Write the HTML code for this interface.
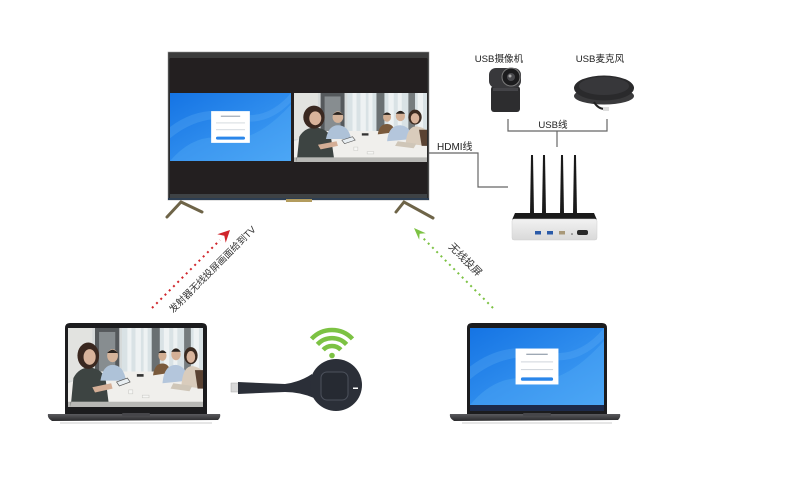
<!DOCTYPE html>
<html><head><meta charset="utf-8"><style>
html,body{margin:0;padding:0;background:#fff;width:804px;height:490px;overflow:hidden}
svg{display:block}
text{font-family:"Liberation Sans","Noto Sans CJK SC",sans-serif;}
</style></head><body>
<svg width="804" height="490" viewBox="0 0 804 490" xmlns="http://www.w3.org/2000/svg">
<defs>
 <linearGradient id="blue" x1="0" y1="0" x2="1" y2="1">
  <stop offset="0" stop-color="#1574e4"/><stop offset="1" stop-color="#45a2f5"/>
 </linearGradient>
 <linearGradient id="shadow" x1="0" y1="0" x2="1" y2="0">
  <stop offset="0" stop-color="#c8c8c8" stop-opacity="0.2"/><stop offset="0.3" stop-color="#bdbdbd"/><stop offset="0.7" stop-color="#bdbdbd"/><stop offset="1" stop-color="#c8c8c8" stop-opacity="0.2"/>
 </linearGradient>
 <linearGradient id="base" x1="0" y1="0" x2="0" y2="1">
  <stop offset="0" stop-color="#5a5a5e"/><stop offset="1" stop-color="#2a2a2c"/>
 </linearGradient>
 <linearGradient id="router" x1="0" y1="0" x2="0" y2="1">
  <stop offset="0" stop-color="#f2f2f2"/><stop offset="1" stop-color="#d9d9d9"/>
 </linearGradient>
 <g id="photo">
  <rect width="100" height="60" fill="#d6dada"/>
  <rect x="0" y="0" width="18" height="40" fill="#e2e3e0"/>
  <rect x="40" y="0" width="60" height="38" fill="#d9e2e5"/>
  <g fill="#eef2f3"><rect x="44" y="0" width="3" height="36"/><rect x="50" y="0" width="4" height="36"/><rect x="56" y="0" width="3" height="36"/><rect x="71" y="0" width="4" height="36"/><rect x="78" y="0" width="3" height="36"/><rect x="93" y="0" width="4" height="36"/></g>
  <rect x="20" y="0" width="18" height="38" fill="#55595c"/>
  <rect x="23" y="3" width="12" height="33" fill="#878d90"/>
  <rect x="62" y="0" width="6" height="38" fill="#6a7072"/>
  <rect x="86" y="0" width="5" height="38" fill="#767c7e"/>
  <polygon points="0,60 0,42 22,33 78,33 100,44 100,60" fill="#f0efec"/>
  <rect x="0" y="56" width="100" height="4" fill="#b8b8b5"/>
  <path d="M2,60 L4,38 Q8,30 16,30 Q26,31 28,40 L30,56 L2,56Z" fill="#3d4442"/>
  <ellipse cx="15" cy="21" rx="8" ry="10" fill="#3a2820"/>
  <ellipse cx="16" cy="22" rx="4.5" ry="6" fill="#d8b39b"/>
  <path d="M18,45 L32,42 L33,46 L20,49Z" fill="#d4ae96"/>
  <path d="M24,40 Q26,28 33,28 Q41,28 43,40Z" fill="#aec2d8"/>
  <ellipse cx="33" cy="21" rx="4" ry="5" fill="#d4b39a"/>
  <path d="M29,19 Q33,14 37,19Z" fill="#2a2420"/>
  <polygon points="36,41 44,38 46,41 38,44" fill="#e8eef2" stroke="#555" stroke-width="0.5"/>
  <rect x="51" y="35" width="5" height="2" fill="#333"/>
  <path d="M63,36 Q64,27 70,27 Q75,27 76,34Z" fill="#7a5a3c"/>
  <ellipse cx="70" cy="21" rx="3" ry="4" fill="#d2ae92"/>
  <path d="M67,19 Q70,15 73,19Z" fill="#2a2420"/>
  <path d="M70,42 Q71,28 80,28 Q88,29 89,40Z" fill="#b4c6dc"/>
  <ellipse cx="80" cy="20" rx="3.5" ry="4.5" fill="#d4b096"/>
  <path d="M76.5,18 Q80,13 83.5,18Z" fill="#2a2420"/>
  <ellipse cx="91" cy="21" rx="5" ry="6.5" fill="#3a2a20"/>
  <ellipse cx="91" cy="22" rx="3.2" ry="4.5" fill="#d8b49c"/>
  <path d="M84,44 Q85,29 92,29 Q100,30 100,36 L100,46Z" fill="#d9ccbc"/>
  <path d="M94,32 L100,32 L100,46 L96,46Z" fill="#5a4232"/>
  <polygon points="78,42 92,44 90,48 76,46" fill="#cfc6b8"/>
  <rect x="45" y="47" width="3" height="3" fill="#f6f6f4" stroke="#c8c8c4" stroke-width="0.4"/>
  <rect x="55" y="51" width="5" height="2" fill="#f6f6f4" stroke="#c8c8c4" stroke-width="0.4"/>
 </g>
 <g id="bluescr">
  <rect width="100" height="60" fill="url(#blue)"/>
  <path d="M0,60 Q20,35 45,40 Q70,45 100,10 L100,60Z" fill="#5aaef7" opacity="0.35"/>
  <path d="M0,30 Q25,10 55,18 Q80,25 100,0 L100,8 Q80,30 55,24 Q25,18 0,40Z" fill="#6ab6f8" opacity="0.25"/>
  <rect x="34" y="16" width="32" height="28" fill="#ffffff"/>
  <rect x="42" y="20" width="16" height="1" fill="#9aa4b0"/>
  <rect x="38" y="26" width="24" height="0.8" fill="#d0d6dc"/>
  <rect x="38" y="32" width="24" height="0.8" fill="#d0d6dc"/>
  <rect x="38" y="38.5" width="24" height="2.6" rx="1.3" fill="#2a86ea"/>
 </g>
</defs>

<!-- TV -->
<line x1="185" y1="213" x2="420" y2="213" stroke="url(#shadow)" stroke-width="2.5"/>
<rect x="168" y="52" width="261" height="148" fill="#2b2b2b" stroke="#a0a0a0" stroke-width="0.6"/>
<rect x="169" y="52.5" width="259" height="6" fill="#3c3c3c"/>
<rect x="170" y="58" width="257" height="136" fill="#231f20"/>
<svg x="170" y="93" width="121" height="68" viewBox="0 0 100 60" preserveAspectRatio="none"><use href="#bluescr"/></svg>
<svg x="294" y="93" width="133" height="69" viewBox="0 0 100 60" preserveAspectRatio="none"><use href="#photo"/></svg>
<rect x="170" y="194" width="257" height="4" fill="#3e4245"/>
<rect x="168" y="198" width="261" height="2" fill="#2d3e52"/>
<rect x="286" y="199" width="26" height="3" fill="#b39c5e"/>
<g stroke="#6e6448" stroke-width="3" stroke-linecap="round" fill="none">
 <path d="M167,217 L181,202 L202,212"/>
 <path d="M396,212 L404,202 L433,218"/>
</g>

<!-- HDMI line -->
<polyline points="429,153 478,153 478,187 508,187" fill="none" stroke="#666" stroke-width="1.2"/>
<text x="437" y="150" font-size="10" fill="#222">HDMI线</text>

<!-- USB labels -->
<text x="499" y="62" font-size="9.6" fill="#222" text-anchor="middle">USB摄像机</text>
<text x="600" y="62" font-size="9.6" fill="#222" text-anchor="middle">USB麦克风</text>

<!-- camera -->
<rect x="491" y="86" width="29" height="26" rx="3" fill="#2d2d2f"/>
<rect x="493" y="88" width="25" height="3" fill="#444448"/>
<rect x="489" y="68" width="32" height="20" rx="7" fill="#38383b"/>
<circle cx="511" cy="77" r="9" fill="#1c1c1e" stroke="#7a7a7a" stroke-width="1"/>
<circle cx="511" cy="77" r="4" fill="#4a4a4e"/>
<circle cx="510" cy="76" r="1.5" fill="#aaa"/>

<!-- mic -->
<ellipse cx="604" cy="96" rx="30" ry="8.5" fill="#3a3a3c"/>
<ellipse cx="604" cy="88" rx="30" ry="12.5" fill="#2a2a2c"/>
<ellipse cx="604" cy="86" rx="25" ry="9" fill="#37373a"/>
<path d="M594,102 Q598,109 605,109" stroke="#222" stroke-width="2" fill="none"/>
<rect x="603" y="107" width="6" height="4" fill="#ddd"/>

<!-- USB bracket -->
<polyline points="508,119 508,131 607,131 607,119" fill="none" stroke="#666" stroke-width="1.2"/>
<line x1="557" y1="131" x2="557" y2="147" stroke="#666" stroke-width="1.2"/>
<text x="553" y="128" font-size="9.6" fill="#222" text-anchor="middle">USB线</text>

<!-- router -->
<g fill="#1a1a1a">
 <polygon points="531,155 533,155 534,214 530,214"/>
 <polygon points="543,155 545,155 546,214 542,214"/>
 <polygon points="561,155 563,155 564,214 560,214"/>
 <polygon points="574,155 576,155 577,214 573,214"/>
</g>
<polygon points="515,213 594,213 597,220 512,220" fill="#1a1a1a"/>
<rect x="512" y="219" width="85" height="21" rx="2" fill="url(#router)" stroke="#cfcfcf" stroke-width="0.5"/>
<rect x="535" y="231" width="6" height="3.5" fill="#2a5aa8"/>
<rect x="547" y="231" width="6" height="3.5" fill="#2a5aa8"/>
<rect x="559" y="231" width="6" height="3.5" fill="#a89878"/>
<circle cx="572" cy="234" r="0.8" fill="#555"/>
<rect x="577" y="230" width="11" height="5" rx="2" fill="#2a2a2a"/>

<!-- red arrow -->
<line x1="152" y1="308" x2="220" y2="240" stroke="#d0252b" stroke-width="2" stroke-dasharray="2 4"/>
<path d="M230,230 L225.7,242.7 L224.3,235.7 L217.3,234.3Z" fill="#d0252b"/>
<text x="0" y="0" font-size="9.6" fill="#333" text-anchor="middle" dominant-baseline="central" transform="translate(213,270) rotate(-45)">发射器无线投屏画面给到TV</text>

<!-- green arrow -->
<line x1="493" y1="308" x2="422" y2="237" stroke="#7cc243" stroke-width="2" stroke-dasharray="2 4"/>
<path d="M414,228 L425.8,233.2 L419.6,233.7 L419.2,239.8Z" fill="#7cc243"/>
<text x="0" y="0" font-size="10.5" fill="#333" text-anchor="middle" dominant-baseline="central" transform="translate(465,260) rotate(45)">无线投屏</text>

<!-- left laptop -->
<path d="M65,414 L65,328 Q65,323 70,323 L202,323 Q207,323 207,328 L207,414Z" fill="#1c1c1e"/>
<svg x="68" y="328" width="135" height="79" viewBox="0 0 100 60" preserveAspectRatio="none"><use href="#photo"/></svg>
<path d="M48,414 L220,414 Q221,417 218,420 L52,421 Q47,418 48,414Z" fill="url(#base)"/>
<rect x="122" y="413" width="28" height="3" rx="1" fill="#46464a"/>
<rect x="60" y="422" width="152" height="2" fill="#e6e6e6"/>

<!-- right laptop -->
<path d="M467,414 L467,328 Q467,323 472,323 L602,323 Q607,323 607,328 L607,414Z" fill="#1c1c1e"/>
<svg x="470" y="328" width="134" height="77" viewBox="0 0 100 60" preserveAspectRatio="none"><use href="#bluescr"/></svg>
<rect x="470" y="405" width="134" height="6" fill="#1d2a4a"/>
<path d="M450,414 L620,414 Q621,417 618,420 L454,421 Q449,418 450,414Z" fill="url(#base)"/>
<rect x="523" y="413" width="28" height="3" rx="1" fill="#46464a"/>
<rect x="462" y="422" width="150" height="2" fill="#e6e6e6"/>

<!-- dongle -->
<rect x="231" y="383" width="8" height="9" fill="#d8d8d8" stroke="#aaa" stroke-width="0.5"/>
<path d="M238,382 Q260,383 285,384 Q300,382 312,374 L314,398 Q300,392 285,392 Q260,393 238,394Z" fill="#2b2f38"/>
<circle cx="336" cy="385" r="26" fill="#2b2f38"/>
<rect x="321" y="372" width="27" height="28" rx="6" fill="#262a32" stroke="#4c515c" stroke-width="1"/>
<rect x="353" y="387.5" width="5" height="1.5" fill="#fff"/>
<g fill="none" stroke="#7cc243" stroke-width="4.5" stroke-linecap="butt">
 <path d="M311.5,338.9 A28,28 0 0 1 352.5,338.9"/>
 <path d="M317.4,344.4 A20,20 0 0 1 346.6,344.4"/>
 <path d="M323.2,349.8 A12,12 0 0 1 340.8,349.8"/>
</g>
<circle cx="332" cy="355.5" r="2.8" fill="#7cc243"/>
</svg>
</body></html>
